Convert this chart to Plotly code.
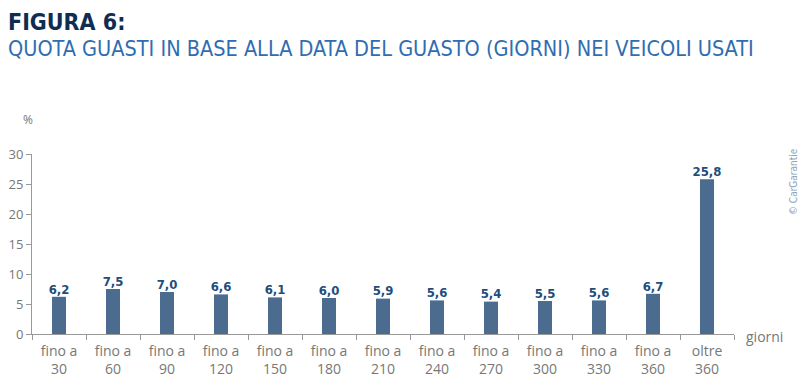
import plotly.graph_objects as go

categories = ["fino a<br>30", "fino a<br>60", "fino a<br>90", "fino a<br>120", "fino a<br>150",
              "fino a<br>180", "fino a<br>210", "fino a<br>240", "fino a<br>270", "fino a<br>300",
              "fino a<br>330", "fino a<br>360", "oltre<br>360"]
values = [6.2, 7.5, 7.0, 6.6, 6.1, 6.0, 5.9, 5.6, 5.4, 5.5, 5.6, 6.7, 25.8]
labels = ["<b>" + f"{v:.1f}".replace(".", ",") + "</b>" for v in values]
y_ticks = [0, 5, 10, 15, 20, 25, 30]

W, H = 800, 378
L, R, T, B = 32, 66, 154, 44
PW, PH = W - L - R, H - T - B
COND = "DejaVu Sans Condensed, Liberation Sans Narrow, sans-serif"

fig = go.Figure()
fig.add_trace(go.Bar(
    x=categories, y=values, width=0.26,
    marker=dict(color="#4b6b8f", line=dict(width=0)),
    hoverinfo="skip",
))
fig.add_trace(go.Scatter(
    x=categories, y=values, mode="text", text=labels, textposition="top center",
    textfont=dict(family=COND, size=13, color="#1d4e7c"), cliponaxis=False,
    hoverinfo="skip",
))

fig.update_layout(
    width=W, height=H,
    margin=dict(l=L, r=R, t=T, b=B),
    paper_bgcolor="white", plot_bgcolor="white",
    showlegend=False,
    font=dict(family="Open Sans, sans-serif", color="#777777"),
    xaxis=dict(
        showgrid=False, showline=True, linecolor="#999999", linewidth=1,
        ticks="outside", ticklen=5, tickcolor="#999999", tickson="boundaries",
        tickfont=dict(size=14, color="#777777"), automargin=False,
        ticklabelstandoff=4,
        range=[-0.5, 12.5],
    ),
    yaxis=dict(
        range=[0, 30], tickvals=y_ticks, showgrid=False,
        showline=True, linecolor="#999999", linewidth=1,
        ticks="outside", ticklen=5, tickcolor="#999999", automargin=False,
        tickfont=dict(size=13, color="#777777"), zeroline=False,
    ),
    bargap=0.74,
)

fig.add_annotation(text="<b>FIGURA 6:</b>", xref="paper", yref="paper",
                   x=-(L - 6) / PW, y=1 + (T - 22) / PH, xanchor="left", yanchor="middle",
                   showarrow=False, font=dict(family=COND, size=23, color="#0f2d52"))
fig.add_annotation(text="QUOTA GUASTI IN BASE ALLA DATA DEL GUASTO (GIORNI) NEI VEICOLI USATI",
                   xref="paper", yref="paper",
                   x=-(L - 6) / PW, y=1 + (T - 49) / PH, xanchor="left", yanchor="middle",
                   showarrow=False, font=dict(family=COND, size=21.5, color="#2f6db0"))
fig.add_annotation(text="%", xref="paper", yref="paper",
                   x=-(L - 28) / PW, y=1 + (T - 119) / PH, xanchor="center", yanchor="middle",
                   showarrow=False, font=dict(size=12, color="#777777"))
fig.add_annotation(text="giorni", xref="paper", yref="paper",
                   x=1 + 10 / PW, y=-2 / PH, xanchor="left", yanchor="middle",
                   showarrow=False, font=dict(size=14, color="#777777"))
fig.add_annotation(text="© CarGarantie", xref="paper", yref="paper",
                   x=1 + (793 - (W - R)) / PW, y=1 - (182 - T) / PH,
                   xanchor="center", yanchor="middle", textangle=-90,
                   showarrow=False, font=dict(family=COND, size=10, color="#8aa4c0"))

fig.write_html("out.html")
